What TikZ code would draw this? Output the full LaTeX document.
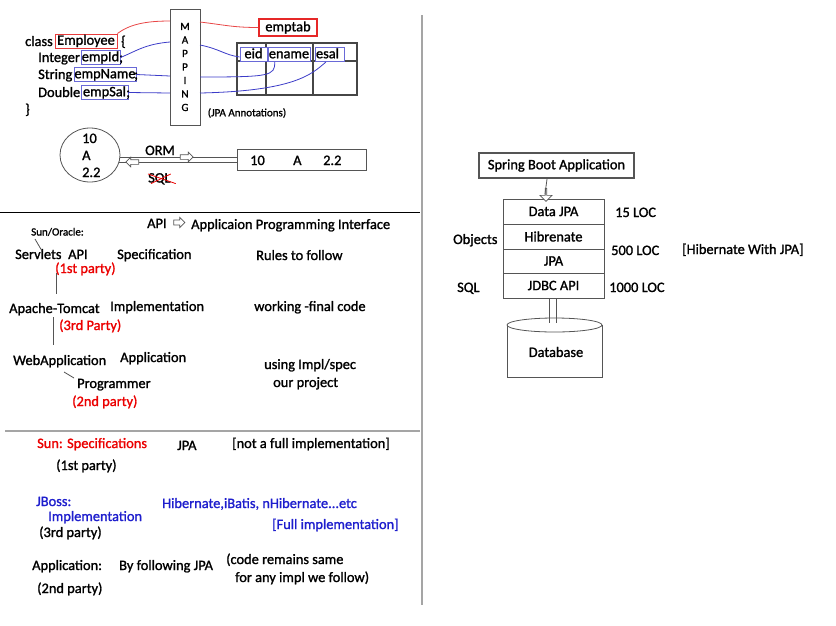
\documentclass[tikz,border=0pt]{standalone}
\usepackage{fontspec}
\setmainfont{Carlito}[FakeBold=1.3]
\usetikzlibrary{shapes.geometric,shapes.arrows,calc}
\definecolor{lnblue}{RGB}{60,60,200}
\definecolor{bxblue}{RGB}{105,105,215}
\definecolor{lnred}{RGB}{232,70,70}
\definecolor{bxred}{RGB}{232,60,60}
\definecolor{txred}{RGB}{235,0,0}
\definecolor{txblue}{RGB}{30,30,205}
\definecolor{outl}{RGB}{85,85,85}
\definecolor{sepg}{RGB}{165,165,165}
\definecolor{tgrey}{RGB}{70,70,70}
\begin{document}
\begin{tikzpicture}[x=1pt,y=-1pt,
  every node/.style={inner sep=0pt, font=\fontsize{14.4}{17}\selectfont},
  t/.style={anchor=base west},
  sm/.style={font=\fontsize{11}{13.5}\selectfont},
  redt/.style={text=txred},
  bluet/.style={text=txblue},
  fbox/.style={line width=0.9pt, text height=10.5pt, text depth=3pt, inner ysep=0.3pt},
  rbox/.style={fbox, draw=bxred},
  bbox/.style={fbox, draw=bxblue},
  gbox/.style={draw=outl, line width=0.8pt},
  hol/.style={single arrow, draw=outl, fill=white, line width=0.7pt, inner xsep=0pt, single arrow head extend=2.5pt},
  rl/.style={lnred, line width=0.8pt},
  bl/.style={lnblue, line width=0.8pt},
  conn/.style={outl, line width=0.8pt}]
\useasboundingbox (0,0) rectangle (836,625);

% ---------------- separators
\coordinate (s1a) at (0,212);   \coordinate (s1b) at (420,212);
\coordinate (s2a) at (5,431);   \coordinate (s2b) at (420,431);
\coordinate (s3a) at (422,15);  \coordinate (s3b) at (422,605);
\draw[black, line width=0.8pt] (s1a) -- (s1b);
\draw[sepg, line width=1.2pt] (s2a) -- (s2b);
\draw[sepg, line width=1.6pt] (s3a) -- (s3b);

% ---------------- class
\node[t] (cls) at (25,46) {class};
\node[rbox, minimum width=62pt] (emp) at (86,41) {Employee};
\node[t] (ob) at (121,46) {\{};
\node[t] (int) at (38,62) {Integer};
\node[bbox, minimum width=39pt] (eid1) at (100.5,57.5) {empId};
\node[t] (sc1) at (119,62) {;};
\node[t] (str) at (38,79) {String};
\node[bbox, minimum width=62pt] (enm1) at (105,74.5) {empName};
\node[t] (sc2) at (134,79) {;};
\node[t] (dbl) at (38,97) {Double};
\node[bbox, minimum width=47pt] (esl1) at (104.5,92.5) {empSal};
\node[t] (sc3) at (126,97) {;};
\node[t] (cb) at (25,114) {\}};

% ---------------- mapping
\node[gbox, minimum width=30pt, minimum height=116pt] (map) at (185,67) {};
\node[sm, align=center] (mapt) at (185,67) {M\\A\\P\\P\\I\\N\\G};
\node[sm] (jpaann) at (247,113) {(JPA Annotations)};

\coordinate (mL1) at (170,21);  \coordinate (mR1) at (200,22);
\coordinate (mL2) at (170,42);  \coordinate (mR2) at (200,45);
\coordinate (mL3) at (170,76);  \coordinate (mR3) at (200,77);
\coordinate (mL4) at (170,93);  \coordinate (mR4) at (200,93);

% ---------------- table
\node[draw={rgb,255:red,230;green,40;blue,40}, line width=1.1pt, minimum width=58pt, minimum height=17pt] (emptab) at (288,27.5) {emptab};
\node[draw=tgrey, line width=1.6pt, minimum width=120pt, minimum height=52pt] (tbl) at (297,69) {};
\draw[tgrey, line width=1.6pt] ($(tbl.north west)+(0,19)$) -- ($(tbl.north east)+(0,19)$);
\draw[tgrey, line width=1.6pt] ($(tbl.north west)+(30,0)$) -- ($(tbl.south west)+(30,0)$);
\draw[tgrey, line width=1.6pt] ($(tbl.north west)+(77,0)$) -- ($(tbl.south west)+(77,0)$);
\node[bbox, minimum width=27pt, fill=white] (eid) at (253.5,54.5) {eid};
\node[bbox, minimum width=42pt, fill=white] (ename) at (289,54.5) {ename};
\node[bbox, minimum width=29pt, fill=white, text width=27pt] (esal) at (329.5,54.5) {esal};

% ---------------- mapping connectors
\draw[rl] (emp.north east) .. controls +(12,-9) and +(-25,0) .. (mL1);
\draw[rl] (mR1) .. controls +(25,3) and +(-25,0) .. (emptab.west);
\draw[bl] (eid1.east) .. controls +(15,-6) and +(-25,2) .. (mL2);
\draw[bl] (mR2) .. controls +(20,4) and +(-15,-2) .. (eid.190);
\draw[bl] (enm1.east) -- (mL3);
\draw[bl] (mR3) .. controls +(70,0) and +(0,14) .. ($(ename.south west)!0.17!(ename.south east)$);
\draw[bl] (esl1.east) -- (mL4);
\draw[bl] (mR4) .. controls +(95,-2) and +(-14,12) .. ($(esal.south west)!0.38!(esal.south east)$);

% ---------------- ORM
\node[ellipse, draw=outl, line width=0.8pt, minimum width=60pt, minimum height=54pt] (circ) at (90,155) {};
\node[t] (c10) at (82,143) {10};
\node[t] (cA) at (82,160) {A};
\node[t] (c22) at (82,177) {2.2};
\node[gbox, minimum width=129pt, minimum height=21pt] (rec) at (301.5,159.5) {};
\node[t] (r10) at (250,165) {10};
\node[t] (rA) at (293,165) {A};
\node[t] (r22) at (323,165) {2.2};
\draw[conn] (circ.-4) -- (circ.-4 -| rec.west);
\draw[conn] (circ.-14) -- (circ.-14 -| rec.west);
\node[hol, minimum height=13pt, minimum width=9pt, inner ysep=2pt] (ormar) at (185.5,157) {};
\node[hol, minimum height=13pt, minimum width=9pt, inner ysep=2pt, shape border rotate=180] (sqlar) at (133.5,162) {};
\node[t] (orm) at (145,155) {ORM};
\node[t] (sql) at (148,182.5) {SQL};
\draw[txred, line width=0.8pt] ($(sql.north west)+(0,1)$) -- ($(sql.south east)+(5,-1)$);
\draw[txred, line width=0.8pt] ($(sql.south west)+(3,-1)$) -- ($(sql.north east)+(0,1)$);

% ---------------- API section
\node[t] (api) at (147,228) {API};
\node[hol, minimum height=11pt, minimum width=10pt, inner ysep=2.2pt] (apiar) at (178,222.5) {};
\node[t] (apif) at (191,229) {Applicaion Programming Interface};
\node[t, sm] (sun) at (31,235.5) {Sun/Oracle:};
\node[t] (serv) at (15,259) {Servlets};
\node[t] (sapi) at (68,259) {API};
\node[t] (spec) at (117,259) {Specification};
\node[t] (rules) at (256,260) {Rules to follow};
\node[t, redt] (p1) at (55,273) {(1st party)};
\node[t] (tomcat) at (9,313) {Apache-Tomcat};
\node[t] (impl) at (110,311) {Implementation};
\node[t] (work) at (254,311) {working -final code};
\node[t, redt] (p3) at (59,330) {(3rd Party)};
\node[t] (webapp) at (13,365) {WebApplication};
\node[t] (appl) at (120,362) {Application};
\node[t] (using) at (264,369) {using Impl/spec};
\node[t] (ourp) at (273,387) {our project};
\node[t] (prog) at (77,388) {Programmer};
\node[t, redt] (p2) at (72,406) {(2nd party)};
\coordinate (d1a) at (35,239); \coordinate (d1b) at (42,251);
\coordinate (v1a) at (56,273); \coordinate (v1b) at (56,294);
\coordinate (v2a) at (53,317); \coordinate (v2b) at (53,345);
\coordinate (d2a) at (64,372); \coordinate (d2b) at (74,378);
\draw[conn] (d1a) -- (d1b);
\draw[conn] (v1a) -- (v1b);
\draw[conn] (v2a) -- (v2b);
\draw[conn] (d2a) -- (d2b);

% ---------------- JPA section
\node[t, redt] (sunspec) at (37,448) {Sun: Specifications};
\node[t] (jpa3) at (177,450) {JPA};
\node[t] (notfull) at (232,448) {[not a full implementation]};
\node[t] (q1) at (56,470) {(1st party)};
\node[t, bluet] (jboss) at (36,506) {JBoss:};
\node[t, bluet] (jimpl) at (48,521) {Implementation};
\node[t] (q3) at (39,537) {(3rd party)};
\node[t, bluet] (hib) at (162,508) {Hibernate,iBatis, nHibernate...etc};
\node[t, bluet] (full) at (272,529) {[Full implementation]};
\node[t] (app3) at (32,570) {Application:};
\node[t] (byf) at (119,570) {By following JPA};
\node[t] (code1) at (226,564) {(code remains same};
\node[t] (code2) at (235,582) {for any impl we follow)};
\node[t] (q2) at (37,593) {(2nd party)};

% ---------------- right stack
\node[draw=outl, line width=1.2pt, minimum width=155pt, minimum height=25pt] (sb) at (556.5,165.5) {Spring Boot Application};
\node[gbox, minimum width=101pt, minimum height=25pt] (dj) at (553.5,211.5) {Data JPA};
\node[gbox, minimum width=101pt, minimum height=25pt] (hb) at (553.5,236.5) {Hibrenate};
\node[gbox, minimum width=101pt, minimum height=24pt] (jp) at (553.5,261) {JPA};
\node[gbox, minimum width=101pt, minimum height=25pt] (jd) at (553.5,285.5) {JDBC API};
\node[hol, minimum height=13pt, minimum width=12pt, inner ysep=2.5pt, shape border rotate=270] (sbar) at (546,194.5) {};
\draw[conn] (sbar.east |- sb.south) -- (sbar.west);
\node[t] (loc15) at (615,217) {15 LOC};
\node[t] (objs) at (453,244) {Objects};
\node[t] (loc500) at (611,255) {500 LOC};
\node[t] (hwj) at (682,254) {[Hibernate With JPA]};
\node[t] (sqlr) at (457,292) {SQL};
\node[t] (loc1000) at (609,292) {1000 LOC};

% database
\draw[conn] (507,325) -- (507,377) -- (602,377) -- (602,325);
\draw[conn, fill=white] (554.5,325) ellipse [x radius=47.5, y radius=7];
\node (dbt) at (556,352) {Database};
\coordinate (db1) at (549,323); \coordinate (db2) at (556,323);
\draw[conn] (db1 |- jd.south) -- (db1);
\draw[conn] (db2 |- jd.south) -- (db2);
\end{tikzpicture}
\end{document}
